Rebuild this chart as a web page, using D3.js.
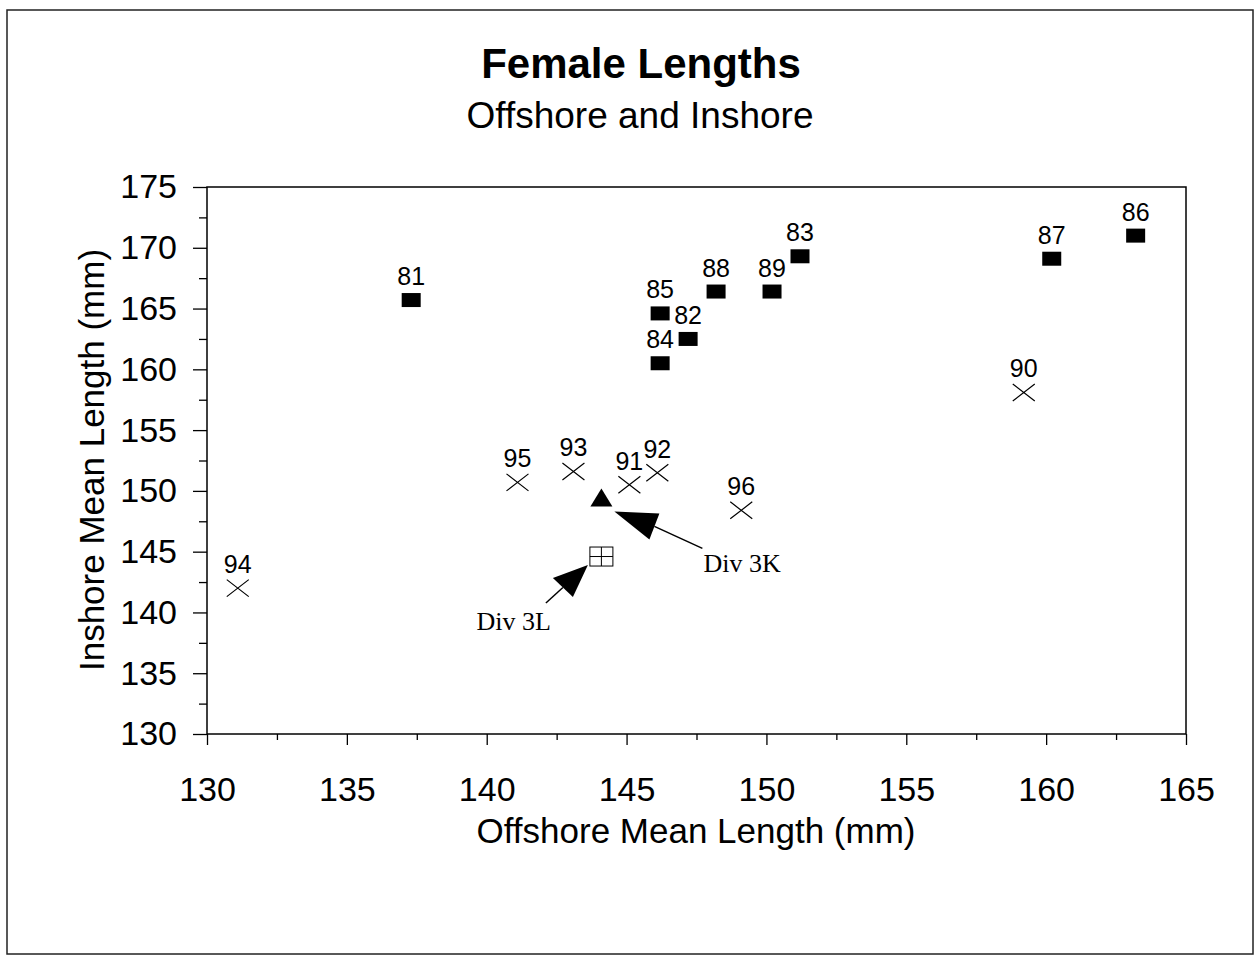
<!DOCTYPE html>
<html>
<head>
<meta charset="utf-8">
<script src="https://cdn.jsdelivr.net/npm/d3@7"></script>
<style>
  body { margin: 0; background: #fff; }
  text { font-family: "Liberation Sans", Arial, sans-serif; fill: #000; }
</style>
</head>
<body>
<div id="chart"></div>
<script>
// data
var squareYears    = ["81", "82", "83", "84", "85", "86", "87", "88", "89"];
var squareOffshore = [137.3, 147.2, 151.2, 146.2, 146.2, 163.2, 160.2, 148.2, 150.2];
var squareInshore  = [165.7, 162.5, 169.3, 160.5, 164.6, 171.0, 169.1, 166.4, 166.4];

var crossYears    = ["90", "91", "92", "93", "94", "95", "96"];
var crossOffshore = [159.2, 145.1, 146.1, 143.1, 131.1, 141.1, 149.1];
var crossInshore  = [158.1, 150.5, 151.5, 151.6, 142.0, 150.7, 148.4];

var divNames    = ["Div 3K", "Div 3L"];
var divOffshore = [144.1, 144.1];
var divInshore  = [149.3, 144.6];

var xTicks = [130, 135, 140, 145, 150, 155, 160, 165];
var yTicks = [130, 135, 140, 145, 150, 155, 160, 165, 170, 175];

var width = 1255, height = 956;

var svg = d3.select("#chart").append("svg")
  .attr("width", width)
  .attr("height", height);

// outer frame
svg.append("rect")
  .attr("x", 7).attr("y", 10)
  .attr("width", 1246).attr("height", 944)
  .attr("fill", "none").attr("stroke", "#222").attr("stroke-width", 1.5);

var x = d3.scaleLinear().domain([130, 165]).range([207, 1186]);
var y = d3.scaleLinear().domain([130, 175]).range([734, 187]);

// titles
svg.append("text").attr("x", 641).attr("y", 78)
  .attr("text-anchor", "middle").style("font-size", "42px").style("font-weight", "bold")
  .text("Female Lengths");
svg.append("text").attr("x", 640).attr("y", 128)
  .attr("text-anchor", "middle").style("font-size", "37px")
  .text("Offshore and Inshore");

// plot box
svg.append("rect")
  .attr("x", x(130)).attr("y", y(175))
  .attr("width", x(165) - x(130)).attr("height", y(130) - y(175))
  .attr("fill", "none").attr("stroke", "#000").attr("stroke-width", 1.5);

// minor ticks (2.5 apart)
var xMinor = d3.range(132.5, 165, 5);
var yMinor = d3.range(132.5, 175, 5);

var xAxis = svg.append("g").attr("transform", "translate(0," + y(130) + ")")
  .call(d3.axisBottom(x).tickValues(xTicks).tickSize(11).tickPadding(32).tickFormat(d3.format("d")));
svg.append("g").attr("transform", "translate(0," + y(130) + ")")
  .call(d3.axisBottom(x).tickValues(xMinor).tickSize(6).tickFormat(""));

var yAxis = svg.append("g").attr("transform", "translate(" + x(130) + ",0)")
  .call(d3.axisLeft(y).tickValues(yTicks).tickSize(14).tickPadding(16).tickFormat(d3.format("d")));
svg.append("g").attr("transform", "translate(" + x(130) + ",0)")
  .call(d3.axisLeft(y).tickValues(yMinor).tickSize(8).tickFormat(""));

svg.selectAll(".domain").remove();
svg.selectAll(".tick line").attr("stroke", "#000").attr("stroke-width", 1.3);
svg.selectAll(".tick text")
  .style("font-family", "'Liberation Sans', Arial, sans-serif")
  .style("font-size", "34px").attr("fill", "#000");
xAxis.selectAll(".tick text").attr("dy", "0.71em");

// axis titles
svg.append("text").attr("x", 696).attr("y", 843)
  .attr("text-anchor", "middle").style("font-size", "35px")
  .text("Offshore Mean Length (mm)");
svg.append("text")
  .attr("transform", "translate(104,460) rotate(-90)")
  .attr("text-anchor", "middle").style("font-size", "35px")
  .text("Inshore Mean Length (mm)");

// filled squares 1981-89
var squares = squareYears.map(function(d, i) {
  return { year: d, x: squareOffshore[i], y: squareInshore[i] };
});
svg.selectAll(".sq").data(squares).enter().append("rect")
  .attr("class", "sq")
  .attr("x", function(d) { return x(d.x) - 9.5; })
  .attr("y", function(d) { return y(d.y) - 7; })
  .attr("width", 19).attr("height", 14)
  .attr("fill", "#000");

// crosses 1990-96
var crosses = crossYears.map(function(d, i) {
  return { year: d, x: crossOffshore[i], y: crossInshore[i] };
});
svg.selectAll(".cross").data(crosses).enter().append("path")
  .attr("class", "cross")
  .attr("d", function(d) {
    var cx = x(d.x), cy = y(d.y);
    return "M" + (cx - 11) + "," + (cy - 8.5) + "L" + (cx + 11) + "," + (cy + 8.5) +
           "M" + (cx - 11) + "," + (cy + 8.5) + "L" + (cx + 11) + "," + (cy - 8.5);
  })
  .attr("stroke", "#000").attr("stroke-width", 1.2).attr("fill", "none");

// year labels
svg.selectAll(".yr").data(squares.concat(crosses)).enter().append("text")
  .attr("class", "yr")
  .attr("x", function(d) { return x(d.x); })
  .attr("y", function(d) { return y(d.y) - 15; })
  .attr("text-anchor", "middle").style("font-size", "25px")
  .text(function(d) { return d.year; });

// Div 3K triangle, Div 3L boxed plus
var k = { x: x(divOffshore[0]), y: y(divInshore[0]) };
var l = { x: x(divOffshore[1]), y: y(divInshore[1]) };

svg.append("path")
  .attr("d", "M" + k.x + "," + (k.y - 11) + "L" + (k.x + 11) + "," + (k.y + 7) +
             "L" + (k.x - 11) + "," + (k.y + 7) + "Z")
  .attr("fill", "#000");

svg.append("rect")
  .attr("x", l.x - 11.5).attr("y", l.y - 9.5)
  .attr("width", 23).attr("height", 19)
  .attr("fill", "#fff").attr("stroke", "#000").attr("stroke-width", 1);
svg.append("path")
  .attr("d", "M" + l.x + "," + (l.y - 9.5) + "V" + (l.y + 9.5) +
             "M" + (l.x - 11.5) + "," + l.y + "H" + (l.x + 11.5))
  .attr("stroke", "#000").attr("stroke-width", 1);

// annotation arrows (offsets in px from the marker)
var notes = [
  { p: k, tip: [13, 12], h1: [58, 14], h2: [48, 40], tail: [101, 49], lab: [102, 73], anchor: "start" },
  { p: l, tip: [-13.5, 8.5], h1: [-48.5, 21.5], h2: [-28.5, 40.5], tail: [-55.5, 46.5], lab: [-50.5, 73.5], anchor: "end" }
];
notes.forEach(function(n, i) {
  var px = function(o) { return [n.p.x + o[0], n.p.y + o[1]]; };
  var t = px(n.tip), a = px(n.h1), b = px(n.h2), e = px(n.tail);
  var mid = [(a[0] + b[0]) / 2, (a[1] + b[1]) / 2];
  svg.append("path").attr("d", "M" + t + "L" + a + "L" + b + "Z").attr("fill", "#000");
  svg.append("line")
    .attr("x1", mid[0]).attr("y1", mid[1]).attr("x2", e[0]).attr("y2", e[1])
    .attr("stroke", "#000").attr("stroke-width", 1.5);
  svg.append("text")
    .attr("x", n.p.x + n.lab[0]).attr("y", n.p.y + n.lab[1])
    .attr("text-anchor", n.anchor)
    .style("font-family", "'Liberation Serif', 'Times New Roman', serif")
    .style("font-size", "26px")
    .text(divNames[i]);
});
</script>
</body>
</html>
